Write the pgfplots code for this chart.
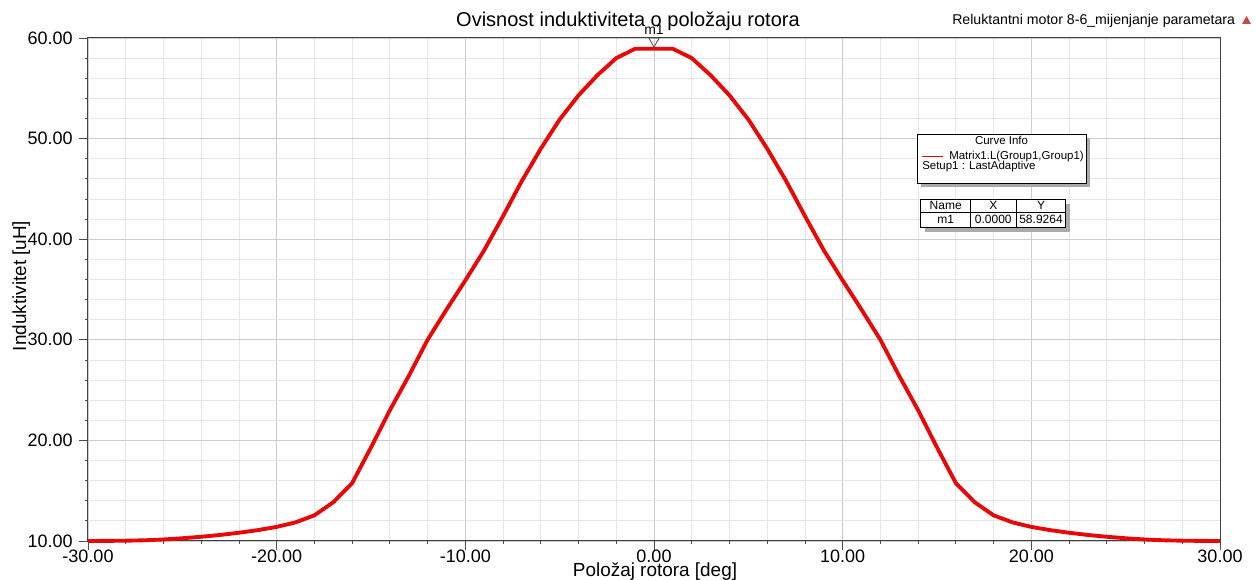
\documentclass[border=0pt]{standalone}
\usepackage{pgfplots}
\pgfplotsset{compat=1.18}
\usepackage{fontspec}
\setmainfont{Liberation Sans}
\definecolor{curvered}{RGB}{232,8,8}
\definecolor{mgrid}{RGB}{205,205,205}
\definecolor{ngrid}{RGB}{230,230,230}
\definecolor{shadowgray}{RGB}{170,170,170}
\definecolor{warnred}{RGB}{200,70,70}
\pgfplotstableread{
x y
-30 10.00
-29 10.01
-28 10.03
-27 10.07
-26 10.15
-25 10.27
-24 10.42
-23 10.60
-22 10.82
-21 11.08
-20 11.40
-19 11.85
-18 12.55
-17 13.85
-16 15.75
-15 19.30
-14 23.00
-13 26.40
-12 30.00
-11 33.00
-10 35.90
-9 38.90
-8 42.30
-7 45.80
-6 49.00
-5 51.90
-4 54.30
-3 56.30
-2 58.00
-1 58.93
0 58.9264
1 58.93
2 58.00
3 56.30
4 54.30
5 51.90
6 49.00
7 45.80
8 42.30
9 38.90
10 35.90
11 33.00
12 30.00
13 26.40
14 23.00
15 19.30
16 15.75
17 13.85
18 12.55
19 11.85
20 11.40
21 11.08
22 10.82
23 10.60
24 10.42
25 10.27
26 10.15
27 10.07
28 10.03
29 10.01
30 10.00
}\curvedata
\begin{document}
\begin{tikzpicture}[x=0.75pt,y=0.75pt]
\begin{axis}[
  at={(66pt,29.25pt)}, anchor=south west,
  scale only axis, width=849pt, height=377.25pt,
  xmin=-30, xmax=30, ymin=10, ymax=60,
  xtick={-30,-20,...,30}, ytick={10,20,...,60},
  minor x tick num=4, minor y tick num=4,
  grid=both,
  major grid style={draw=mgrid, line width=0.6pt},
  minor grid style={draw=ngrid, line width=0.6pt},
  tick align=outside,
  xtick pos=bottom, ytick pos=left,
  major tick length=6.75pt, minor tick length=2.25pt,
  tick style={black!70, line width=0.6pt},
  axis line style={black!75, line width=0.75pt},
  tick label style={font=\fontsize{13.5}{16}\selectfont,
    /pgf/number format/fixed, /pgf/number format/fixed zerofill,
    /pgf/number format/precision=2, /pgf/number format/assume math mode=true},
  xticklabel style={anchor=north, inner sep=0pt},
  yticklabel style={anchor=east, inner sep=0pt, xshift=-4.5pt},
  clip=false,
]
\addplot[curvered, line width=2.9pt, line join=round] table[x=x,y=y] {\curvedata};
\addplot[only marks, mark=triangle, mark size=4.5pt,
  mark options={rotate=180, draw=black!70, fill=white, line width=0.6pt}]
  coordinates {(0,59.70)};
\node[anchor=base, inner sep=0pt, font=\fontsize{10.5}{12}\selectfont] at (axis cs:0,60) [yshift=2.4pt] {m1};
\end{axis}
% title and labels
\node[anchor=base, inner sep=0pt, font=\fontsize{15}{18}\selectfont] at (628,553.3) {Ovisnost induktiviteta o položaju rotora};
\node[anchor=base west, inner sep=0pt, font=\fontsize{10.6}{12}\selectfont] at (952,555) {Reluktantni motor 8-6\_mijenjanje parametara};
\fill[warnred] (1242,556) -- (1251,556) -- (1246.5,564) -- cycle;
\node[anchor=base, inner sep=0pt, font=\fontsize{14.2}{16}\selectfont] at (655,3) {Položaj rotora [deg]};
\node[anchor=base, inner sep=0pt, rotate=90, font=\fontsize{14.2}{16}\selectfont] at (26,294) {Induktivitet [uH]};
% curve info box
\fill[shadowgray] (921,393) rectangle (1090,442);
\filldraw[fill=white, draw=black, line width=0.6pt] (917,397) rectangle (1086,446);
\begin{scope}[font=\fontsize{8.6}{10}\selectfont]
\node[anchor=base, inner sep=0pt] at (1001.5,435) {Curve Info};
\draw[curvered, line width=1.4pt] (922,423.5) -- (943,423.5);
\node[anchor=base west, inner sep=0pt] at (949,420) {Matrix1.L(Group1,Group1)};
\node[anchor=base west, inner sep=0pt] at (922,410.5) {Setup1 : LastAdaptive};
\end{scope}
% marker table
\fill[shadowgray] (925,348) rectangle (1070,376);
\filldraw[fill=white, draw=black, line width=0.6pt] (920.7,352.7) rectangle (1065.7,381);
\draw[black, line width=0.5pt] (920.7,367.7) -- (1065.7,367.7);
\draw[black, line width=0.5pt] (970.7,352.7) -- (970.7,381);
\draw[black, line width=0.5pt] (1016,352.7) -- (1016,381);
\begin{scope}[font=\fontsize{9}{10}\selectfont]
\node[anchor=center, inner sep=0pt] at (945.7,374.3) {Name};
\node[anchor=center, inner sep=0pt] at (993.3,374.3) {X};
\node[anchor=center, inner sep=0pt] at (1041,374.3) {Y};
\node[anchor=center, inner sep=0pt] at (945.7,360.2) {m1};
\node[anchor=center, inner sep=0pt] at (993.3,360.2) {0.0000};
\node[anchor=center, inner sep=0pt] at (1041,360.2) {58.9264};
\end{scope}
\pgfresetboundingbox
\path[use as bounding box] (0,0) rectangle (1256,580);
\end{tikzpicture}
\end{document}
